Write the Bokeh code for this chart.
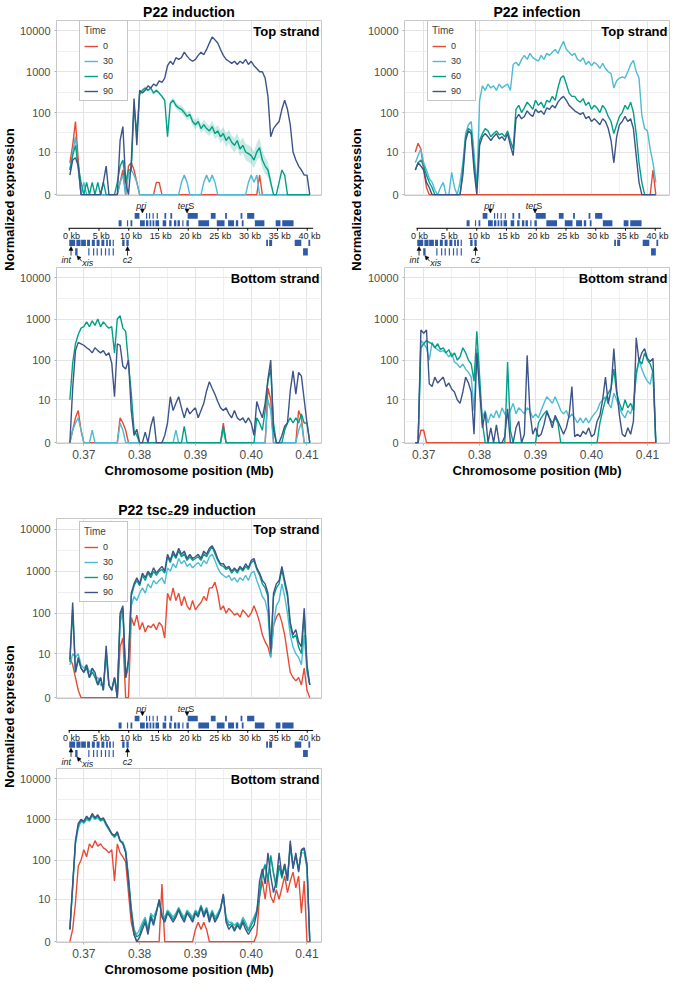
import numpy as np
from bokeh.plotting import figure
from bokeh.models import (Range1d, FixedTicker, Label, Legend, LegendItem,
                          CustomJSTickFormatter, PrintfTickFormatter, Arrow, NormalHead)
from bokeh.layouts import row, column
from bokeh.embed import file_html
from bokeh.resources import INLINE
from bokeh.core.properties import value

FONT = "Liberation Sans"
TIMES = ["0", "30", "60", "90"]
COLORS = ["#E64B35", "#4DBBD5", "#00A087", "#3C5488"]
GENE = "#2D5BA8"

# genomic bins (Mb): 87 bins of 0.5 kb
STEP_MB = 0.0005
N_BINS = 87
START_INDUCTION = 0.3675
START_INFECTION = 0.3685
START_TSC = 0.3675

Y_TICKS = [0, 10, 100, 1000, 10000]
X_TICKS = [0.37, 0.38, 0.39, 0.40, 0.41]
X_MINOR = [0.365, 0.375, 0.385, 0.395, 0.405, 0.415]
KB_TICKS = [0, 5, 10, 15, 20, 25, 30, 35, 40]

# ---------------- P22 induction ----------------
IND_TOP_0 = [5, 15, 60, 6, 0, 0, 0, 0, 0, 0,
             0, 0, 0, 0, 0, 0, 0, 0, 1, 3,
             0, 4, 5, 3, 1, 0, 0, 0, 0, 0,
             0, 1, 1, 0, 0, 0, 0, 0, 0, 0,
             0, 0, 0, 0, 0, 0, 0, 0, 0, 0,
             0, 0, 0, 0, 0, 0, 0, 0, 0, 0,
             0, 0, 0, 0, 0, 0, 0, 0, 2, 0,
             0, 0, 0, 0, 0, 0, 0, 0, 0, 0,
             0, 0, 0, 0, 0, 0, 0]
IND_TOP_30 = [3, 10, 25, 3, 0, 1, 0, 0, 0, 0,
              0, 0, 0, 0, 0, 0, 0, 0, 1, 2,
              0, 2, 3, 2, 1, 0, 0, 0, 0, 0,
              0, 0, 0, 0, 0, 0, 0, 0, 0, 0,
              1, 2, 1, 0, 0, 0, 0, 0, 1, 2,
              1, 2, 1, 0, 0, 0, 0, 0, 0, 0,
              0, 0, 0, 0, 1, 2, 1, 2, 0, 0,
              0, 0, 0, 0, 0, 0, 0, 0, 0, 0,
              0, 0, 0, 0, 0, 0, 0]
IND_TOP_60 = [3, 8, 15, 4, 1, 0, 1, 0, 1, 0,
              1, 0, 1, 0, 0, 0, 0, 1, 4, 6,
              1, 3, 3, 150, 30, 280, 350, 400, 350, 400,
              300, 350, 300, 250, 200, 25, 170, 200, 150, 130,
              120, 100, 80, 90, 60, 50, 60, 40, 50, 40,
              35, 45, 30, 35, 25, 30, 20, 25, 18, 15,
              20, 12, 15, 10, 9, 8, 6, 10, 13, 6,
              4, 3, 1, 0, 0, 1, 3, 2, 0, 0,
              0, 0, 0, 0, 0, 0, 0]
# fold-spread of the 60 min confidence ribbon (top strand, induction)
IND_TOP_60_SPREAD = [1.0] * 23 + [1.1] * 12 + \
                    [1.15, 1.15, 1.2, 1.2, 1.2, 1.25, 1.25, 1.25, 1.25, 1.3,
                     1.3, 1.3, 1.3, 1.35, 1.35, 1.35, 1.4, 1.4, 1.4, 1.45,
                     1.45, 1.5, 1.5, 1.5, 1.55, 1.55, 1.6, 1.6, 1.65, 1.7,
                     1.7, 1.75, 1.75, 1.8, 1.8, 1.8, 1.8, 1.8] + [1.0] * 14
IND_TOP_90 = [2, 6, 7, 4, 0, 0, 0, 0, 0, 0,
              0, 0, 1, 4, 0, 0, 0, 0, 20, 45,
              1, 0, 5, 220, 15, 350, 300, 350, 450, 400,
              500, 450, 600, 550, 700, 1400, 1800, 1500, 2200, 2000,
              2200, 3000, 2400, 2000, 1800, 2000, 2500, 3000, 2600, 3500,
              5000, 7000, 6000, 5000, 3500, 2500, 2000, 1800, 1600, 1800,
              1500, 1800, 1600, 2000, 1500, 1800, 1400, 1200, 1000, 1000,
              700, 250, 25, 40, 50, 60, 120, 200, 120, 50,
              10, 6, 4, 3, 2, 2, 0]
IND_BOT_0 = [0, 1, 3, 5, 1, 0, 0, 0, 0, 0,
             0, 0, 0, 0, 0, 0, 0, 0, 3, 2,
             1, 0, 0, 0, 0, 0, 0, 0, 0, 0,
             0, 0, 0, 0, 0, 0, 0, 0, 0, 0,
             0, 0, 0, 0, 0, 0, 0, 0, 0, 0,
             0, 0, 0, 0, 0, 2, 0, 0, 0, 0,
             0, 0, 0, 0, 0, 0, 0, 0, 0, 0,
             0, 20, 10, 0, 0, 0, 0, 0, 0, 0,
             0, 0, 5, 3, 0, 0, 0]
IND_BOT_30 = [0, 1, 2, 3, 1, 0, 0, 0, 1, 0,
              0, 0, 0, 0, 0, 0, 0, 0, 2, 1,
              0, 0, 0, 0, 0, 0, 0, 0, 0, 0,
              0, 0, 0, 0, 0, 0, 0, 0, 1, 0,
              0, 0, 0, 0, 0, 0, 0, 0, 0, 0,
              0, 0, 0, 0, 0, 1, 0, 0, 0, 0,
              0, 0, 0, 0, 0, 0, 0, 0, 0, 0,
              0, 10, 5, 0, 0, 0, 0, 0, 0, 0,
              0, 0, 1, 2, 0, 0, 0]
IND_BOT_60 = [10, 85, 250, 420, 600, 650, 850, 650, 900, 700,
              1000, 650, 850, 700, 600, 650, 150, 1000, 1200, 600,
              500, 85, 15, 1, 0.5, 0, 0, 0, 0, 0,
              0, 0, 0, 0, 0, 0, 0, 0, 0, 0,
              0, 1.5, 0, 0, 0, 0, 0, 0, 0, 0,
              0, 0, 0, 0, 0, 1.5, 0, 0, 0, 0,
              0, 0, 0, 0, 0, 0, 0, 3, 2, 1,
              5, 30, 60, 2, 0, 0, 0, 1, 2, 3,
              2, 3, 2, 4, 2, 2, 0]
IND_BOT_90 = [0, 20, 170, 270, 250, 230, 200, 180, 150, 200,
              170, 150, 170, 130, 150, 85, 12, 250, 230, 70,
              60, 100, 5, 0.5, 1.1, 0, 0, 0.8, 0, 1.5,
              3.3, 0, 0, 0, 0.5, 2, 12, 5, 8, 12,
              6, 3, 6, 4, 5, 6, 3, 5, 8, 17,
              29, 20, 14, 9, 6, 5, 6, 4, 3, 5,
              3, 2.5, 3, 2, 3, 2, 0.5, 9, 5, 3,
              8, 34, 100, 1, 0, 0, 0.5, 1.5, 2, 17,
              54, 14, 50, 40, 10, 2, 0]

# ---------------- P22 infection ----------------
INF_TOP_0 = [10, 17, 12, 3, 0.5, 0, 0, 0, 0, 0,
             0, 0, 0, 0, 0, 0, 0, 0, 0, 0,
             0, 0, 0, 0, 0, 0, 0, 0, 0, 0,
             0, 0, 0, 0, 0, 0, 0, 0, 0, 0,
             0, 0, 0, 0, 0, 0, 0, 0, 0, 0,
             0, 0, 0, 0, 0, 0, 0, 0, 0, 0,
             0, 0, 0, 0, 0, 0, 0, 0, 0, 0,
             0, 0, 0, 0, 0, 0, 0, 0, 0, 0,
             0, 0, 0, 0, 0, 3, 0]
INF_TOP_30 = [5, 8, 12, 5, 3, 1.5, 1, 0.3, 0, 0.5,
              1, 0, 0, 2.5, 0.5, 0, 1, 5, 30, 50,
              60, 10, 0.5, 200, 450, 350, 500, 400, 450, 350,
              500, 400, 450, 500, 350, 1500, 1700, 1400, 2000, 2500,
              2000, 2800, 2200, 2000, 1800, 2500, 2000, 2800, 2500, 3000,
              3500, 2800, 4000, 5500, 3500, 3000, 2500, 2800, 2000, 1800,
              2200, 1500, 1800, 1400, 1700, 1500, 1200, 1600, 1200, 1000,
              900, 400, 600, 700, 750, 700, 1000, 1500, 1900, 1000,
              700, 85, 40, 35, 12, 5, 1]
INF_TOP_60 = [3, 5, 6, 4, 2, 1, 0.5, 0, 0, 0,
              0, 0, 0, 0, 0, 0, 0, 3, 25, 40,
              35, 5, 0.5, 20, 30, 40, 35, 25, 30, 35,
              28, 30, 25, 35, 20, 12, 120, 150, 100, 130,
              180, 150, 120, 200, 150, 180, 130, 200, 180, 250,
              200, 400, 700, 800, 500, 300, 250, 250, 200, 180,
              220, 150, 180, 120, 150, 130, 100, 150, 120, 80,
              60, 30, 50, 80, 100, 150, 120, 180, 100, 30,
              5, 1, 0, 0, 0, 0, 0]
INF_TOP_90 = [3, 5, 4, 3, 1, 0.5, 0, 0, 0, 0,
              0, 0, 0, 0, 0, 0, 0, 2, 20, 35,
              30, 3, 0, 15, 25, 30, 25, 20, 25, 30,
              22, 25, 20, 30, 15, 8, 70, 90, 70, 80,
              110, 90, 80, 120, 100, 110, 90, 130, 120, 150,
              130, 180, 220, 250, 200, 150, 130, 110, 100, 90,
              100, 70, 80, 60, 70, 60, 50, 70, 60, 40,
              20, 5, 25, 50, 60, 80, 60, 70, 40, 8,
              1, 0, 0, 0, 0, 0, 0]
INF_BOT_0 = [0, 0, 1, 1, 0, 0, 0, 0, 0, 0,
             0, 0, 0, 0, 0, 0, 0, 0, 0, 0,
             0, 0, 0, 0, 0, 0, 0, 0, 0, 0,
             0, 0, 0, 0, 0, 0, 0, 0, 0, 0,
             0, 0, 0, 0, 0, 0, 0, 0, 0, 0,
             0, 0, 0, 0, 0, 0, 0, 0, 0, 0,
             0, 0, 0, 0, 0, 0, 0, 0, 0, 0,
             0, 0, 0, 0, 0, 0, 0, 0, 0, 0,
             0, 0, 0, 0, 0, 0, 0]
INF_BOT_30 = [0, 0, 300, 250, 200, 100, 270, 200, 180, 160,
              170, 150, 120, 150, 90, 80, 65, 80, 60, 50,
              38, 5, 190, 15, 3, 5, 2, 4, 3, 5,
              3, 6, 4, 3, 5, 8, 4, 6, 5, 4,
              6, 5, 3, 4, 3, 5, 8, 12, 10, 8,
              12, 8, 5, 4, 5, 3, 4, 3, 2, 3,
              2, 3, 2, 3, 4, 5, 8, 10, 12, 8,
              6, 15, 10, 6, 4, 3, 5, 4, 8, 40,
              100, 60, 40, 30, 25, 60, 0]
INF_BOT_60 = [0, 0, 200, 250, 300, 270, 250, 200, 250, 180,
              200, 150, 180, 120, 150, 100, 120, 200, 150, 100,
              80, 30, 500, 40, 2, 0, 0, 0, 0, 0,
              0, 0, 0, 90, 1, 0, 0, 0, 0, 0,
              0, 0, 0, 0, 2, 3, 4, 5, 3, 2,
              3, 2, 0, 0, 0, 0, 0, 0, 0, 0,
              0, 0, 0, 0, 0, 0, 2, 5, 10, 15,
              20, 60, 15, 8, 5, 10, 6, 8, 5, 50,
              100, 80, 150, 100, 80, 50, 0]
INF_BOT_90 = [0, 0, 540, 450, 540, 26, 22, 38, 27, 32,
              38, 22, 27, 19, 16, 10, 8, 16, 38, 27,
              16, 0.6, 150, 19, 1.3, 4.5, 0, 1.3, 0, 1.7,
              0, 0, 0.4, 5.6, 0, 0, 1.3, 2.3, 0, 0.6,
              130, 4.5, 0.6, 1.3, 0.4, 0.6, 1.7, 4.5, 2.9, 1.3,
              3.6, 2.3, 1.3, 0.6, 1.3, 3.6, 22, 0.4, 0.6, 0.4,
              0.9, 0.6, 1.3, 0.4, 0.6, 2.3, 3.6, 10, 38, 7.8,
              19, 190, 19, 3.6, 0.6, 0.4, 1.3, 0.6, 2.3, 350,
              92, 150, 190, 110, 92, 110, 0]

# ---------------- P22 tsc229 induction ----------------
TSC_TOP_0 = [8, 5, 2, 0.5, 0, 0, 0, 0, 0, 0,
             0, 0, 0, 0, 0, 0, 0, 0, 15, 25,
             0, 0, 80, 50, 90, 40, 60, 35, 50, 45,
             55, 40, 60, 50, 25, 300, 200, 400, 200, 300,
             150, 250, 150, 120, 200, 120, 150, 180, 250, 200,
             400, 400, 550, 300, 120, 150, 100, 130, 110, 90,
             100, 80, 120, 100, 80, 100, 150, 100, 60, 30,
             20, 15, 8, 50, 80, 100, 60, 30, 10, 3,
             2, 1.5, 2, 1, 4, 0.5, 0]
TSC_TOP_30 = [5, 10, 8, 10, 5, 4, 5, 3, 4, 2,
              2, 1, 1, 8, 1, 0.5, 2, 0.5, 60, 100,
              2, 4, 150, 250, 200, 300, 400, 300, 500, 400,
              600, 500, 600, 700, 500, 1200, 1000, 1500, 1200, 2000,
              1500, 1800, 1300, 1500, 1200, 1400, 1600, 1300, 1800, 1500,
              2200, 2500, 1800, 1200, 900, 800, 700, 800, 600, 700,
              550, 700, 600, 800, 600, 900, 1000, 600, 400, 250,
              200, 100, 8, 50, 150, 200, 500, 250, 100, 30,
              15, 10, 8, 5, 30, 3, 1]
TSC_TOP_60 = [6, 120, 3, 7, 4, 3, 4, 2, 3, 2,
              1, 2, 0.5, 12, 1, 0.5, 2, 0, 80, 130,
              2, 6, 250, 450, 600, 450, 800, 600, 900, 700,
              1000, 800, 1000, 1100, 900, 2200, 1600, 2600, 2000, 3000,
              2200, 2600, 1800, 2200, 1800, 2000, 2200, 1800, 2600, 2200,
              3000, 3800, 2600, 1800, 1400, 1300, 1100, 1200, 900, 1100,
              900, 1200, 1000, 1300, 1100, 1600, 1800, 1100, 800, 500,
              400, 250, 10, 250, 400, 500, 1100, 500, 250, 50,
              25, 30, 15, 10, 100, 4, 1]
TSC_TOP_90 = [7, 180, 3, 8, 4, 3, 5, 2, 4, 3,
              1, 2, 0.5, 16, 1, 0.5, 2, 0, 100, 150,
              2, 7, 300, 500, 700, 500, 900, 700, 1000, 800,
              1200, 900, 1100, 1300, 1000, 2500, 1800, 3000, 2200, 3500,
              2500, 3000, 2000, 2500, 2000, 2200, 2500, 2000, 3000, 2500,
              3500, 4000, 3000, 2000, 1500, 1500, 1200, 1300, 1000, 1200,
              1000, 1300, 1100, 1500, 1200, 1800, 2000, 1200, 900, 600,
              500, 300, 12, 300, 500, 600, 1300, 600, 300, 60,
              30, 40, 20, 15, 130, 5, 1]
TSC_BOT_0 = [0, 1, 8, 70, 100, 180, 120, 250, 200, 300,
             220, 250, 200, 180, 150, 180, 30, 250, 150, 120,
             90, 15, 2, 0.5, 0, 0, 0, 0, 0, 0,
             0, 0, 0, 25, 0, 0, 0, 0, 0, 0,
             0, 0, 0, 0, 0, 1, 2, 1, 2, 1,
             0, 0, 0, 0, 0, 0, 0, 0, 0, 0,
             0, 0, 0, 0, 0, 0, 0, 0.5, 12, 30,
             10, 40, 12, 8, 18, 10, 20, 40, 15, 30,
             50, 20, 40, 4, 30, 0, 0]
TSC_BOT_30 = [1, 20, 250, 600, 900, 800, 1000, 900, 1200, 1000,
              1100, 900, 1000, 700, 550, 450, 350, 450, 300, 280,
              180, 40, 6, 1, 0.5, 1, 2, 3, 1, 4,
              3, 5, 8, 4, 3, 5, 4, 3, 4, 6,
              4, 3, 5, 4, 3, 5, 4, 7, 4, 6,
              3, 5, 3, 4, 6, 12, 3, 2, 2, 1.5,
              2, 1.5, 3, 2, 1, 2, 3, 5, 15, 50,
              80, 35, 120, 50, 25, 70, 40, 80, 35, 200,
              70, 120, 60, 150, 150, 60, 0]
TSC_BOT_60 = [1, 22, 280, 700, 950, 850, 1100, 950, 1300, 1050,
              1200, 950, 1050, 750, 580, 430, 380, 480, 300, 260,
              160, 35, 5, 0.8, 0.3, 0.5, 1.5, 2.5, 0.8, 3.5,
              2, 4.5, 9, 3.5, 2.5, 4.5, 3.5, 2.5, 3.5, 5.5,
              3.5, 2.5, 4.5, 3.5, 2.5, 4.5, 3.5, 6.5, 3.5, 5.5,
              2.5, 4.5, 2.5, 3.5, 5.5, 13, 2.5, 1.5, 1.8, 1,
              1.8, 1.2, 2.5, 1.5, 0.8, 1.5, 2.5, 4.5, 12, 45,
              75, 30, 130, 45, 20, 75, 35, 70, 30, 250,
              70, 130, 55, 170, 180, 70, 0]
TSC_BOT_90 = [1, 25, 300, 800, 1000, 900, 1200, 1000, 1400, 1100,
              1300, 1000, 1100, 800, 600, 450, 400, 500, 300, 250,
              150, 30, 4, 0.5, 0, 0.3, 1, 2, 0.5, 3,
              1.5, 4, 10, 3, 2, 4, 3, 2, 3, 5,
              3, 2, 4, 3, 2, 4, 3, 6, 3, 5,
              2, 4, 2, 3, 5, 14, 2, 1, 1.5, 0.8,
              1.5, 1, 2, 1, 0.5, 1, 1.5, 4, 30, 60,
              25, 150, 40, 15, 30, 150, 40, 80, 30, 300,
              60, 150, 50, 180, 200, 80, 0]

# ---------------- gene map (kb) ----------------
GENES_TOP_1 = [(11.0, 11.8), (12.9, 13.1), (13.4, 13.6), (14.0, 14.2), (14.7, 14.9),
               (16.0, 16.3), (17.0, 17.3), (19.9, 21.6), (23.8, 24.6), (26.2, 26.5),
               (28.8, 29.1), (29.9, 31.1)]
GENES_TOP_2 = [(8.3, 8.8), (9.7, 9.9), (10.3, 10.6), (11.9, 12.7), (12.9, 13.3),
               (13.5, 13.8), (14.0, 14.3), (14.5, 15.1), (15.7, 16.3), (16.8, 17.2),
               (17.6, 18.0), (18.2, 18.6), (19.0, 19.2), (19.7, 20.1), (21.7, 23.5),
               (24.8, 26.1), (26.7, 27.7), (28.0, 28.4), (29.0, 29.3), (31.2, 32.8),
               (34.7, 35.5), (35.8, 37.7)]
GENES_BOT_1 = [(0.0, 1.0), (1.2, 1.9), (2.0, 2.8), (3.0, 3.5), (3.8, 4.3), (4.6, 5.1),
               (5.4, 5.9), (6.2, 6.5), (6.7, 7.0), (7.3, 7.5), (8.9, 9.3), (9.6, 10.0),
               (33.1, 33.4), (33.6, 34.1), (37.9, 39.0), (40.2, 40.5)]
GENES_BOT_2 = [(1.0, 1.4), (3.2, 3.4), (4.0, 4.2), (4.6, 4.8), (5.3, 5.5), (6.0, 6.2),
               (6.6, 6.8), (7.3, 7.5), (39.3, 40.1)]

Y_LO, Y_HI = -0.02, 4.25
YT = [float(np.log10(t + 1)) for t in Y_TICKS]
YM = [(a + b) / 2 for a, b in zip(YT[:-1], YT[1:])]


def tr(vals):
    return np.log10(np.asarray(vals, dtype=float) + 1.0)


def bins(start):
    return np.round(start + STEP_MB * np.arange(N_BINS), 5)


def strand_fig(w, h, mbl, mbr, mbt, mbb, xr, xs, series, strand,
               title=None, legend_loc=None, xlabel=False, ribbons=None):
    p = figure(width=w, height=h, x_range=Range1d(*xr), y_range=Range1d(Y_LO, Y_HI),
               x_axis_location="below" if xlabel else None, title=title,
               toolbar_location=None, output_backend="svg",
               min_border_left=mbl, min_border_right=mbr,
               min_border_top=mbt, min_border_bottom=mbb,
               background_fill_color="white", border_fill_color="white")
    if title:
        p.title.align = "center"
        p.title.text_font = FONT
        p.title.text_font_size = "14px"
        p.title.text_font_style = "bold"
        p.title.text_color = "black"
        p.title.standoff = 2
    p.outline_line_color = "#c8c8c8"
    p.outline_line_width = 1
    yt = FixedTicker(ticks=YT, minor_ticks=YM)
    xt = FixedTicker(ticks=X_TICKS, minor_ticks=X_MINOR)
    p.yaxis.ticker = yt
    p.ygrid.ticker = yt
    p.xgrid.ticker = xt
    for g in (p.xgrid, p.ygrid):
        g.grid_line_color = "#e4e4e4"
        g.grid_line_width = 1
        g.minor_grid_line_color = "#f0f0f0"
        g.minor_grid_line_width = 1
    p.yaxis.formatter = CustomJSTickFormatter(
        code="return String(Math.round(Math.pow(10, tick) - 1));")
    axes = [p.yaxis]
    if xlabel:
        p.xaxis.ticker = xt
        p.xaxis.formatter = PrintfTickFormatter(format="%.2f")
        p.xaxis.axis_label = "Chromosome position (Mb)"
        p.xaxis.axis_label_text_font = FONT
        p.xaxis.axis_label_text_font_size = "13px"
        p.xaxis.axis_label_text_font_style = "bold"
        p.xaxis.axis_label_text_color = "black"
        p.xaxis.axis_label_standoff = 1
        axes.append(p.xaxis)
    for ax in axes:
        ax.axis_line_color = None
        ax.major_tick_line_color = "#b3b3b3"
        ax.major_tick_out = 2
        ax.major_tick_in = 0
        ax.minor_tick_line_color = None
        ax.major_label_text_font = FONT
        ax.major_label_text_color = "#4d4d4d"
        ax.major_label_standoff = 2
    p.yaxis.major_label_text_font_size = "11px"
    if xlabel:
        p.xaxis.major_label_text_font_size = "12px"

    if ribbons:
        for idx, spread in ribbons:
            v = np.asarray(series[idx], dtype=float)
            f = np.asarray(spread, dtype=float)
            p.varea(x=xs, y1=tr(v / f), y2=tr(v * f), fill_color=COLORS[idx], fill_alpha=0.22)

    rends = []
    for vals, col in zip(series, COLORS):
        r = p.line(xs, tr(vals), line_color=col, line_width=1.4)
        rends.append(r)

    p.add_layout(Label(x=xr[1], y=Y_HI, x_offset=-2, y_offset=-3, text=strand,
                       text_align="right", text_baseline="top", text_font=FONT,
                       text_font_size="13px", text_font_style="bold", text_color="black"))
    if legend_loc is not None:
        items = [LegendItem(label=t, renderers=[r]) for t, r in zip(TIMES, rends)]
        leg = Legend(items=items, title="Time", location=legend_loc,
                     title_text_font=FONT, title_text_font_size="10px",
                     title_text_font_style="normal", title_standoff=4,
                     label_text_font=FONT, label_text_font_size="9px",
                     label_text_color="#333333",
                     glyph_width=14, glyph_height=8, label_height=11,
                     label_standoff=5, spacing=4, padding=4, margin=0,
                     border_line_color="#8c8c8c", border_line_width=1,
                     background_fill_color="white", background_fill_alpha=1)
        p.add_layout(leg)
    return p


def map_fig(w, h, mbl, mbr):
    p = figure(width=w, height=h, x_range=Range1d(-2.14, 42.4), y_range=Range1d(69.5, 0.5),
               x_axis_location=None, y_axis_location=None, toolbar_location=None,
               output_backend="svg", min_border_left=mbl, min_border_right=mbr,
               min_border_top=0, min_border_bottom=0)
    p.grid.visible = False
    p.outline_line_color = None
    for genes, y0, y1 in ((GENES_TOP_1, 12.5, 18.5), (GENES_TOP_2, 20, 26.5),
                          (GENES_BOT_1, 40.5, 47), (GENES_BOT_2, 49.5, 57)):
        p.quad(left=[g[0] for g in genes], right=[g[1] for g in genes],
               top=y0, bottom=y1, fill_color=GENE, line_color=None)
    p.segment(x0=[-0.1], y0=[28.5], x1=[41.0], y1=[28.5], line_color="black", line_width=1)
    p.segment(x0=KB_TICKS, y0=[28.5] * len(KB_TICKS), x1=KB_TICKS, y1=[31] * len(KB_TICKS),
              line_color="black", line_width=1)
    p.text(x=[k + 0.4 for k in KB_TICKS], y=[36.5] * len(KB_TICKS),
           text=[f"{k} kb" for k in KB_TICKS], text_align="center", text_baseline="middle",
           text_font=value(FONT), text_font_size="9px", text_color="#222222")
    # annotations
    it = dict(text_font=value(FONT), text_font_size="9px", text_font_style="italic",
              text_baseline="middle", text_color="#222222")
    p.text(x=[12.1], y=[5.5], text=["pri"], text_align="center", **it)
    p.text(x=[20.0], y=[5.5], text=["ter"], text_align="right", **it)
    p.text(x=[20.0], y=[5.5], text=["S"], text_align="left", text_font=value(FONT),
           text_font_size="9px", text_baseline="middle", text_color="#222222")
    p.text(x=[-0.5], y=[62], text=["int"], text_align="center", **it)
    p.text(x=[3.1], y=[65], text=["xis"], text_align="center", **it)
    p.text(x=[9.8], y=[62], text=["c2"], text_align="center", **it)
    for xs_, ys_, xe, ye in ((12.3, 9.8, 12.3, 12.5), (19.8, 9.8, 19.8, 12.5),
                             (0.3, 57, 0.3, 47.5), (9.8, 57, 9.8, 47.5),
                             (2.1, 63, 1.3, 57.2)):
        p.add_layout(Arrow(x_start=xs_, y_start=ys_, x_end=xe, y_end=ye, line_width=0.8,
                           line_color="black",
                           end=NormalHead(size=4, fill_color="black", line_color="black",
                                          line_width=0.5)))
    return p


def ylab_fig(w, h, cx, cy):
    p = figure(width=w, height=h, x_range=Range1d(0, w), y_range=Range1d(0, h),
               x_axis_location=None, y_axis_location=None, toolbar_location=None,
               output_backend="svg", min_border=0)
    p.grid.visible = False
    p.outline_line_color = None
    p.add_layout(Label(x=cx, y=cy, text="Normalized expression", angle=np.pi / 2,
                       text_align="center", text_baseline="middle", text_font=FONT,
                       text_font_size="13px", text_font_style="bold", text_color="black"))
    return p


XR_13 = (0.3651, 0.4126)
XR_2 = (0.36657, 0.41395)

# panel 1
W1, LAB1 = 318, 16
MBL1, MBR1 = 34, 13
MBL2, MBR2 = 35, 1
top1 = strand_fig(W1, 201, MBL1, MBR1, 17, 6, XR_13, bins(START_INDUCTION),
                  [IND_TOP_0, IND_TOP_30, IND_TOP_60, IND_TOP_90], "Top strand",
                  title="P22 induction", legend_loc=(23, 94),
                  ribbons=[(2, IND_TOP_60_SPREAD)])
map1 = map_fig(W1, 66, MBL1, MBR1)
bot1 = strand_fig(W1, 213, MBL1, MBR1, 0, 36, XR_13, bins(START_INDUCTION),
                  [IND_BOT_0, IND_BOT_30, IND_BOT_60, IND_BOT_90], "Bottom strand",
                  xlabel=True)
panel1 = row(ylab_fig(LAB1, 480, 8.5, 281), column(top1, map1, bot1))

# panel 2
W2, LAB2 = 306, 30
top2 = strand_fig(W2, 201, MBL2, MBR2, 17, 6, XR_2, bins(START_INFECTION),
                  [INF_TOP_0, INF_TOP_30, INF_TOP_60, INF_TOP_90], "Top strand",
                  title="P22 infection", legend_loc=(23, 94))
map2 = map_fig(W2, 66, MBL2, MBR2)
bot2 = strand_fig(W2, 213, MBL2, MBR2, 0, 36, XR_2, bins(START_INFECTION),
                  [INF_BOT_0, INF_BOT_30, INF_BOT_60, INF_BOT_90], "Bottom strand",
                  xlabel=True)
panel2 = row(ylab_fig(LAB2, 480, 22, 281), column(top2, map2, bot2))

# panel 3
top3 = strand_fig(W1, 224, MBL1, MBR1, 38, 6, XR_13, bins(START_TSC),
                  [TSC_TOP_0, TSC_TOP_30, TSC_TOP_60, TSC_TOP_90], "Top strand",
                  title="P22 tsc\u208229  induction", legend_loc=(23, 96))
map3 = map_fig(W1, 64, MBL1, MBR1)
bot3 = strand_fig(W1, 211, MBL1, MBR1, 0, 36, XR_13, bins(START_TSC),
                  [TSC_BOT_0, TSC_BOT_30, TSC_BOT_60, TSC_BOT_90], "Bottom strand",
                  xlabel=True)
panel3 = row(ylab_fig(LAB1, 499, 8.5, 263), column(top3, map3, bot3))

layout = column(row(panel1, panel2), panel3)
open("out.html", "w").write(file_html(layout, INLINE))
